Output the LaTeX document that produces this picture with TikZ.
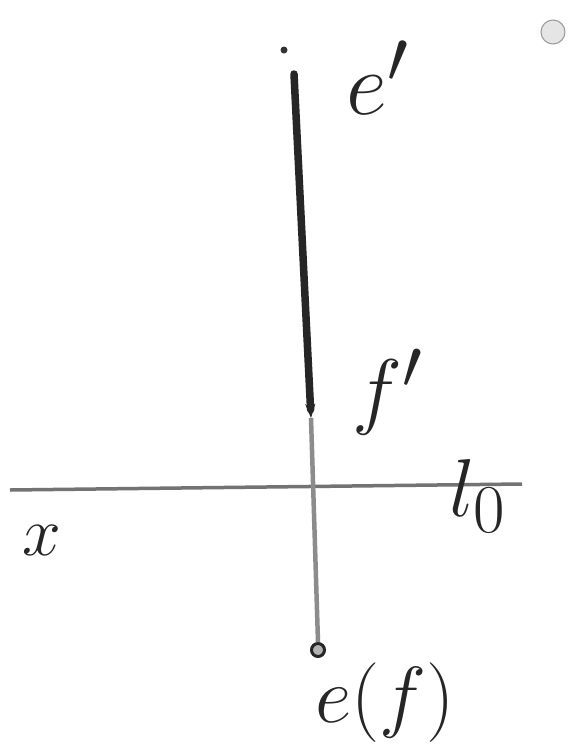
\documentclass[tikz,border=0pt]{standalone}
\usetikzlibrary{arrows.meta}
\begin{document}
\begin{tikzpicture}[x=1pt,y=-1pt,
  lbl/.style={inner sep=0pt,text=black!85,font=\Huge},
  darkline/.style={line width=7.5pt,draw=black!85,line cap=round},
  grayline/.style={line width=4.5pt,draw=black!45},
  axisline/.style={line width=3.5pt,draw=black!55}]
\useasboundingbox (0,0) rectangle (569,755);
\fill[white] (0,0) rectangle (569,755);
% top right circle
\node[circle,draw=black!40,fill=black!10,line width=1pt,minimum size=24pt,inner sep=0pt] (btn) at (553,32) {};
% points
\coordinate (top) at (294,74);
\coordinate (tip) at (311,418);
\coordinate (axL) at (10,490);
\coordinate (axR) at (522,484);
\node[circle,draw=black!85,fill=black!30,line width=3pt,minimum size=13pt,inner sep=0pt] (bot) at (318,650) {};
\fill[black!80] (284,50) circle (3.5pt);
% axis
\draw[axisline] (axL) -- (axR);
% gray lower line
\draw[grayline] (tip) -- (bot.north);
% dark arrow
\draw[darkline,-{Stealth[length=14pt,width=10pt]}] (top) -- (tip);
% labels
\node[lbl,scale=3.6] (ep) at (378,78) {$e'$};
\node[lbl,scale=3.4] (fp) at (388,392) {$f'$};
\node[lbl,scale=2.8] (xl) at (42,540) {$x$};
\node[lbl,scale=3.3] (l0) at (478,496) {$l_0$};
\node[lbl,scale=3.2] (ef) at (385,703) {$e(f)$};
\end{tikzpicture}
\end{document}
